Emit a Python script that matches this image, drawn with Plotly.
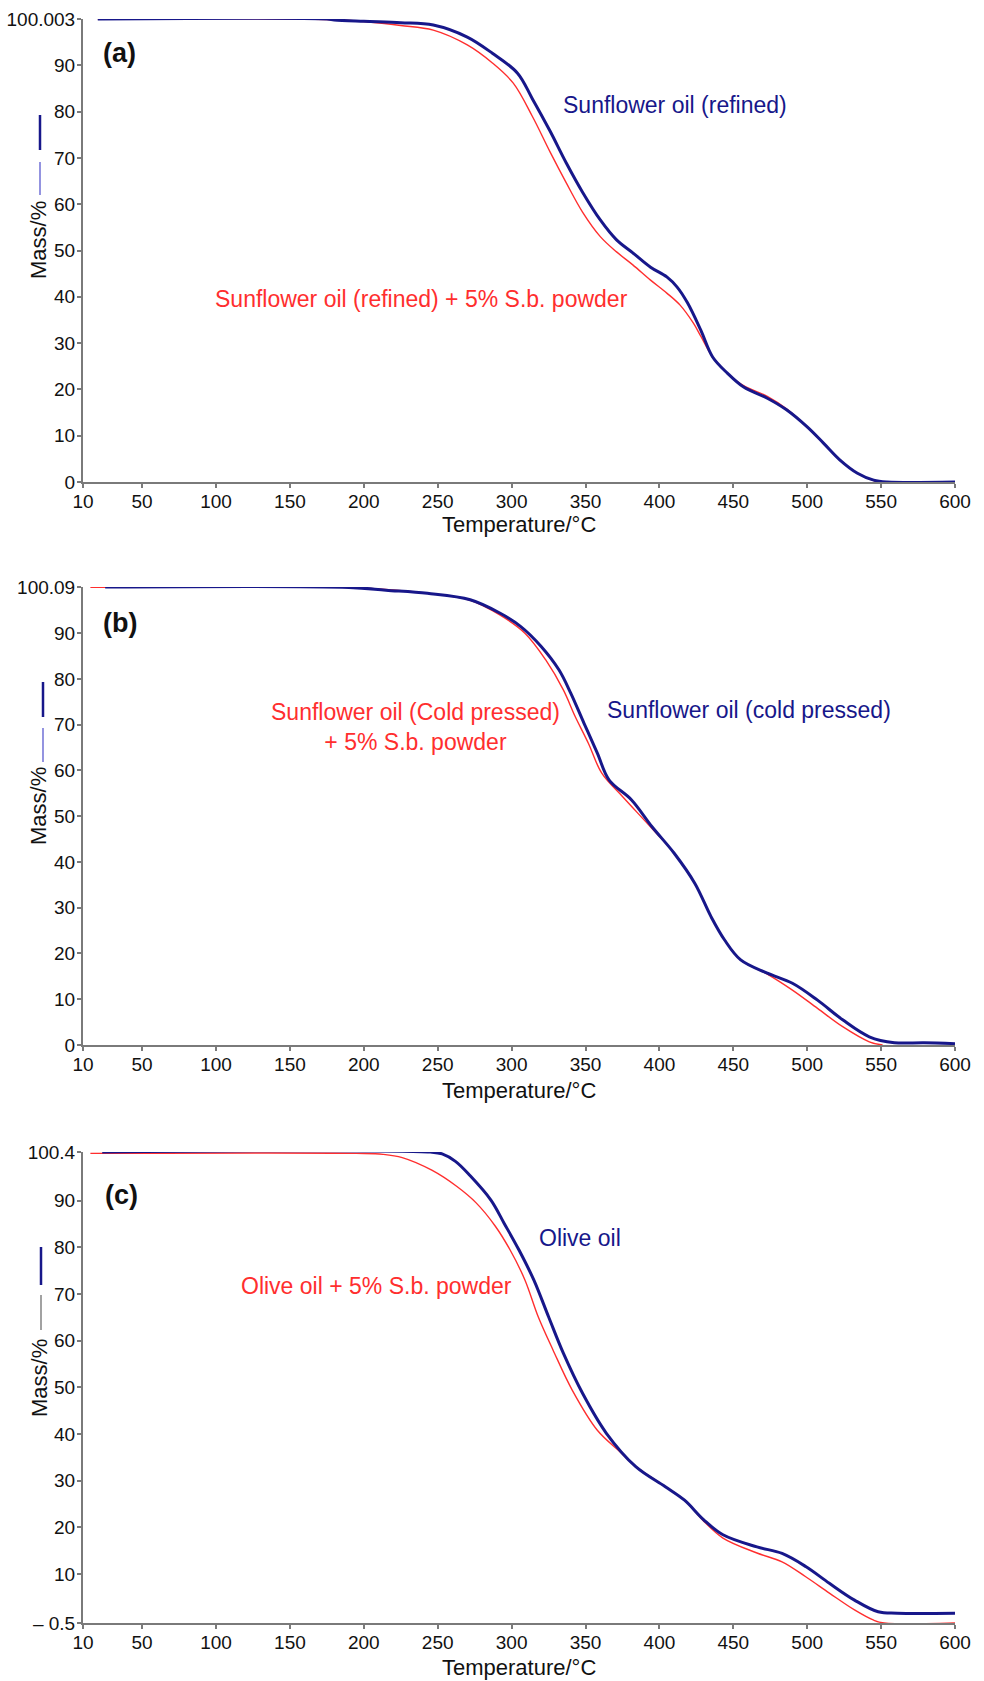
import plotly.graph_objects as go

W, H = 984, 1681

# ---------------- data ----------------
# panel (a) sunflower oil (refined)
Ta_navy = [20, 175, 180, 200, 225, 247, 270, 287, 304, 314, 326, 337, 348, 360, 371, 382, 394, 405,
           412, 419, 428, 436, 446, 457, 473, 486, 500, 511, 522, 534, 545, 554, 600]
Ma_navy = [100.0, 100.0, 99.8, 99.5, 99.2, 98.7, 96.1, 92.6, 88.3, 82.8, 75.8, 68.9, 62.6, 56.6, 52.3,
           49.5, 46.4, 44.3, 42.1, 38.7, 32.8, 27.0, 23.5, 20.5, 18.1, 15.6, 11.9, 8.4, 4.8, 1.9, 0.4, 0.0, 0.0]
Ta_red = [20, 175, 202, 225, 247, 270, 287, 301, 314, 326, 337, 348, 360, 371, 382, 394, 405, 414,
          423, 428, 436, 446, 457, 473, 486, 500, 511, 522, 534, 545, 550]
Ma_red = [100.0, 99.9, 99.4, 98.6, 97.6, 94.4, 90.5, 86.2, 79.0, 71.3, 64.6, 58.3, 53.0, 49.7, 46.9,
          43.6, 40.8, 38.2, 34.3, 31.5, 27.0, 23.5, 20.8, 18.5, 15.8, 11.9, 8.4, 4.8, 1.9, 0.3, 0.0]

# panel (b) sunflower oil (cold pressed)
Tb_navy = [25, 190, 215, 243, 272, 292, 306, 320, 332, 340, 349, 358, 366, 381, 395, 410, 424, 435,
           444, 455, 473, 490, 507, 524, 542, 559, 579, 600]
Mb_navy = [100.09, 100.0, 99.4, 98.7, 97.3, 94.4, 91.5, 87.1, 82.0, 76.9, 70.3, 63.8, 57.9, 53.6, 47.7,
           41.9, 35.3, 28.0, 23.0, 18.6, 15.7, 13.5, 9.8, 5.5, 1.8, 0.5, 0.5, 0.3]
Tb_red = [15, 190, 243, 272, 292, 309, 323, 335, 343, 352, 361, 375, 395, 410, 424, 435, 444, 455,
          473, 490, 507, 524, 542, 551]
Mb_red = [100.0, 100.0, 98.7, 97.2, 94.0, 90.0, 84.2, 77.6, 71.8, 65.9, 59.4, 54.3, 47.3, 41.9, 35.3,
          28.0, 23.0, 18.6, 15.5, 12.0, 8.0, 4.0, 0.7, 0.0]

# panel (c) olive oil
Tc_navy = [23, 245, 253, 262, 272, 286, 295, 305, 315, 325, 335, 348, 364, 384, 404, 417, 430, 443, 466,
           483, 499, 515, 532, 548, 561, 600]
Mc_navy = [100.4, 100.4, 100.0, 98.4, 95.3, 90.1, 85.1, 79.4, 73.0, 65.1, 57.3, 48.7, 40.2, 33.0, 28.7, 25.8,
           21.6, 18.4, 15.8, 14.4, 11.6, 8.0, 4.4, 1.9, 1.6, 1.6]
Tc_red = [15, 195, 213, 226, 246, 263, 276, 289, 299, 309, 318, 328, 341, 358, 374, 384, 404, 417,
          430, 443, 466, 483, 499, 515, 532, 545, 552, 600]
Mc_red = [100.1, 100.1, 99.9, 99.2, 96.5, 93.0, 89.5, 84.5, 79.4, 73.0, 65.1, 58.0, 49.4, 40.8, 36.0,
          33.0, 28.7, 25.8, 21.3, 17.7, 14.5, 12.6, 9.4, 5.9, 2.3, 0.1, -0.5, -0.5]

x_ticks = [10, 50, 100, 150, 200, 250, 300, 350, 400, 450, 500, 550, 600]
ya_ticks = [0, 10, 20, 30, 40, 50, 60, 70, 80, 90, 100.003]
ya_text = ["0", "10", "20", "30", "40", "50", "60", "70", "80", "90", "100.003"]
yb_ticks = [0, 10, 20, 30, 40, 50, 60, 70, 80, 90, 100.09]
yb_text = ["0", "10", "20", "30", "40", "50", "60", "70", "80", "90", "100.09"]
yc_ticks = [-0.5, 10, 20, 30, 40, 50, 60, 70, 80, 90, 100.4]
yc_text = ["\u2013 0.5", "10", "20", "30", "40", "50", "60", "70", "80", "90", "100.4"]

NAVY = "#17178a"
RED = "#ff2e2e"
AXC = "#7a7a7a"
FONT = "Liberation Sans, Arial, Helvetica, sans-serif"


def px(x):
    return x / W


def py(y):
    return 1 - y / H


fig = go.Figure()

panels = [
    ("", Ta_navy, Ma_navy, Ta_red, Ma_red, ya_ticks, ya_text, (19, 482), [0, 100.003]),
    ("2", Tb_navy, Mb_navy, Tb_red, Mb_red, yb_ticks, yb_text, (587, 1045), [0, 100.09]),
    ("3", Tc_navy, Mc_navy, Tc_red, Mc_red, yc_ticks, yc_text, (1152, 1623), [-0.5, 100.4]),
]

layout_axes = {}
for suf, tn, mn, tr, mr, yt, ytt, (ytop, ybot), yr in panels:
    xa = "x" + suf
    ya = "y" + suf
    fig.add_trace(go.Scatter(x=tr, y=mr, mode="lines", line=dict(color=RED, width=1.4),
                             xaxis=xa, yaxis=ya, showlegend=False, line_shape="spline"))
    fig.add_trace(go.Scatter(x=tn, y=mn, mode="lines", line=dict(color=NAVY, width=3),
                             xaxis=xa, yaxis=ya, showlegend=False, line_shape="spline"))
    common = dict(showline=True, linecolor=AXC, linewidth=2, ticks="outside", ticklen=4,
                  tickwidth=1.5, tickcolor=AXC, showgrid=False, zeroline=False, automargin=False,
                  tickfont=dict(family=FONT, size=19, color="#111"))
    layout_axes["xaxis" + suf] = dict(domain=[px(83), px(955)], range=[10, 600],
                                      tickvals=x_ticks, anchor=ya, ticklabelstandoff=-3, **common)
    layout_axes["yaxis" + suf] = dict(domain=[py(ybot), py(ytop)], range=[yr[0], yr[1]],
                                      tickvals=yt, ticktext=ytt, anchor=xa, ticklabelstandoff=-2,
                                      **common)

fig.update_layout(**layout_axes)

annotations = []


def ann(text, x, y, color="#111", size=23, bold=False, angle=0, xanchor="center", align="center"):
    if bold:
        text = "<b>" + text + "</b>"
    annotations.append(dict(text=text, x=px(x), y=py(y), xref="paper", yref="paper",
                            showarrow=False, xanchor=xanchor, yanchor="middle", textangle=angle,
                            align=align, font=dict(family=FONT, size=size, color=color)))


# panel labels
ann("(a)", 119, 53, size=27, bold=True)
ann("(b)", 120, 623, size=27, bold=True)
ann("(c)", 121, 1195, size=27, bold=True)

# axis titles
for yy in (525, 1090, 1667):
    ann("Temperature/°C", 519, yy, size=22)
for yy in (240, 806, 1378):
    ann("Mass/%", 39, yy, size=22, angle=-90)

# curve labels
ann("Sunflower oil (refined)", 561, 105, color=NAVY, xanchor="left")
ann("Sunflower oil (refined) + 5% S.b. powder", 213, 299, color=RED, xanchor="left")
ann("Sunflower oil (cold pressed)", 605, 710, color=NAVY, xanchor="left")
ann("Sunflower oil (Cold pressed)<br>+ 5% S.b. powder", 415, 727, color=RED)
ann("Olive oil", 537, 1238, color=NAVY, xanchor="left")
ann("Olive oil + 5% S.b. powder", 239, 1286, color=RED, xanchor="left")

# little legend strokes inside the y titles
shapes = []


def stroke(x, y0, y1, color, width):
    shapes.append(dict(type="line", xref="paper", yref="paper", x0=px(x), x1=px(x),
                       y0=py(y0), y1=py(y1), line=dict(color=color, width=width)))


stroke(40, 115, 150, NAVY, 2.5)
stroke(40, 162, 195, "#5a5ad0", 1.3)
stroke(43, 682, 717, NAVY, 2.5)
stroke(43, 728, 762, "#5a5ad0", 1.3)
stroke(41, 1247, 1285, NAVY, 2.5)
stroke(41, 1295, 1330, "#707070", 1.3)

fig.update_layout(width=W, height=H, margin=dict(l=0, r=0, t=0, b=0),
                  paper_bgcolor="white", plot_bgcolor="white",
                  annotations=annotations, shapes=shapes, showlegend=False)

fig.write_html("out.html")
